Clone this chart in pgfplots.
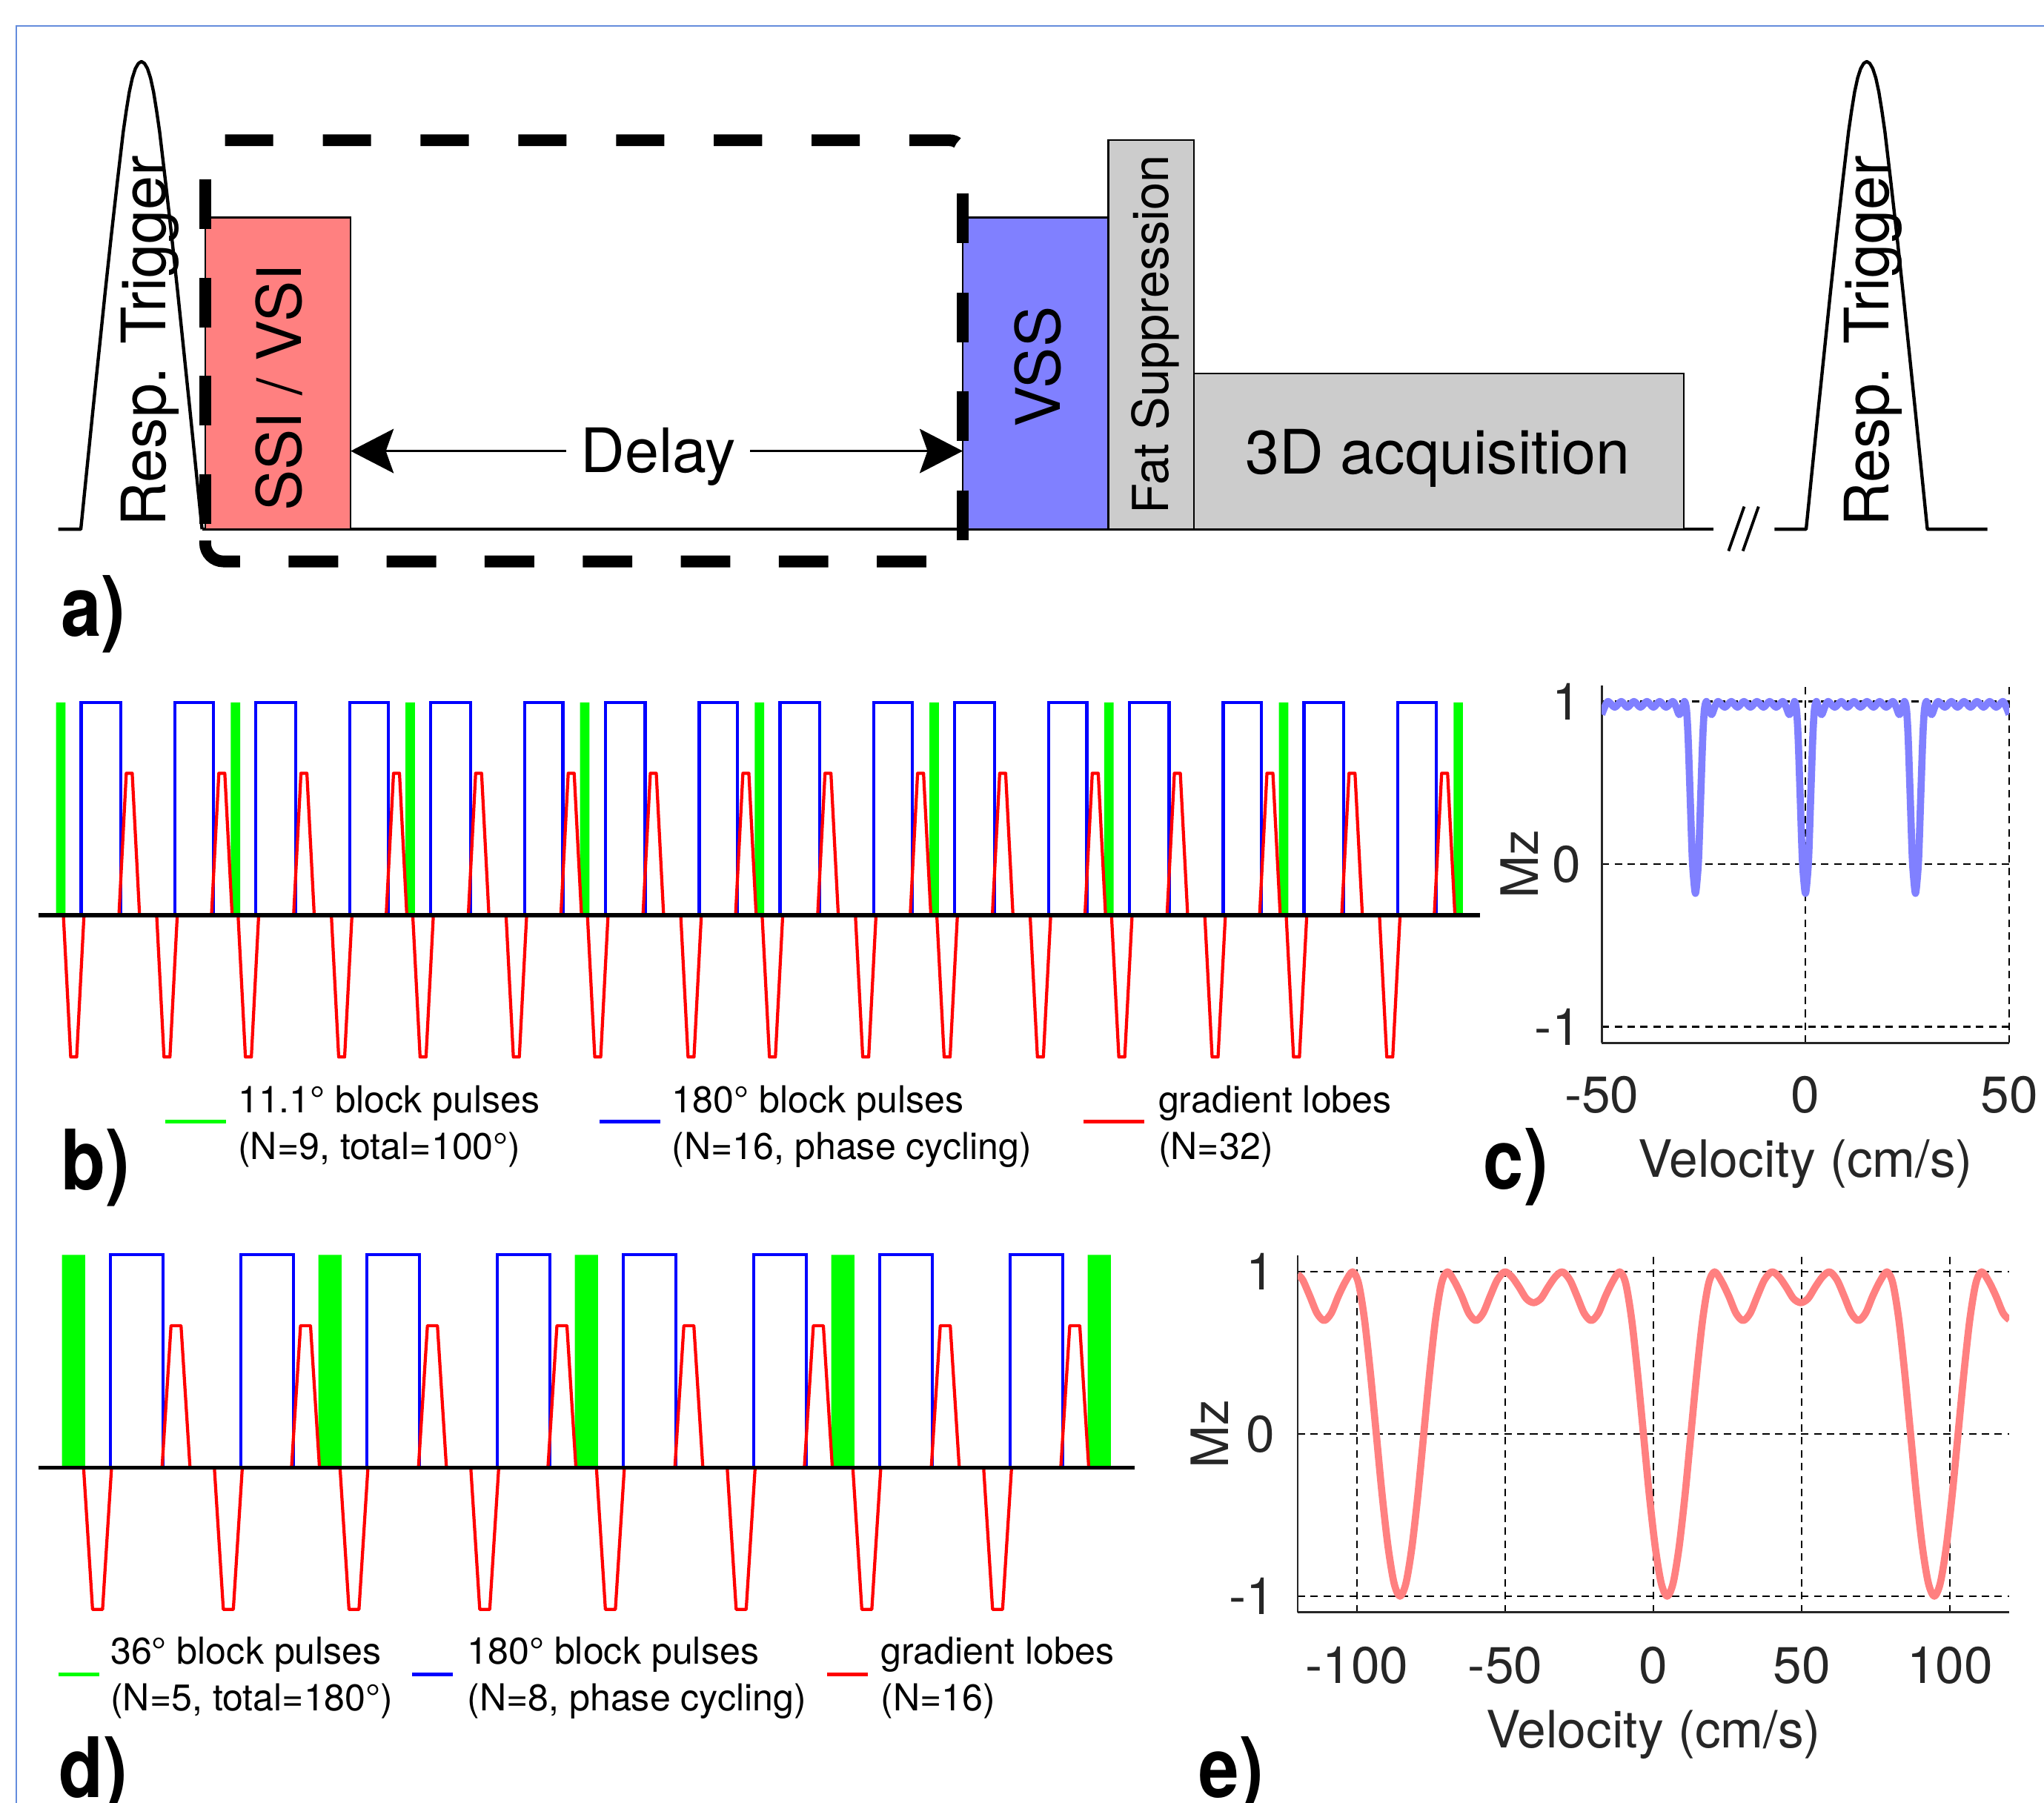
\documentclass[border=0pt]{standalone}
\usepackage{fontspec}
\setmainfont{TeX Gyre Heros}
\usepackage{pgfplots}
\pgfplotsset{compat=1.18}
\usetikzlibrary{arrows.meta}
\definecolor{ssi}{RGB}{255,128,128}
\definecolor{vss}{RGB}{128,128,255}
\definecolor{fatg}{RGB}{204,204,204}
\definecolor{pgreen}{RGB}{0,255,0}
\definecolor{pblue}{RGB}{0,0,255}
\definecolor{pred}{RGB}{255,0,0}
\definecolor{axgray}{RGB}{38,38,38}
\definecolor{bord}{RGB}{100,140,220}
\newcommand{\fA}{\fontsize{47}{56}\selectfont}
\newcommand{\fL}{\fontsize{28.5}{36}\selectfont}
\newcommand{\fT}{\fontsize{39.5}{44}\selectfont}
\newcommand{\fLab}{\bfseries\fontsize{64}{70}\selectfont}
\begin{document}
\begin{tikzpicture}
\path[use as bounding box] (0pt,0pt) rectangle (1568pt,-1383pt);

% ---------------- panel a (canvas in display px, y downward) ----------------
\begin{axis}[at={(0pt,0pt)}, anchor=north west, scale only axis,
  width=1568pt, height=1383pt, xmin=0, xmax=1568, ymin=0, ymax=1383,
  y dir=reverse, hide axis, clip=false]
\addplot[bord, line width=1.2pt] coordinates {(12.7,1400)(12.7,19.8)(1580,19.8)};
\addplot[black, line width=2.5pt, line join=round] coordinates {(44.7,406)(62,406)(66.65,360.1)(71.3,314.5)(75.95,269.7)(80.6,224.8)(85.25,181.75)(89.9,140.5)(94.55,101)(96.875,84.9)(99.2,70.5)(101.525,59.8)(103.85,52.6)(106.175,48.6)(108.5,47.2)(110.825,48.6)(113.15,52.6)(115.475,59.8)(117.8,70.5)(120.125,84.9)(122.45,101)(127.1,140.5)(131.75,181.75)(136.4,224.8)(141.05,269.7)(145.7,314.5)(150.35,360.1)(155,406)};
\addplot[black, line width=2.6pt] coordinates {(155,406)(1314.7,406)};
\addplot[black, line width=2.5pt, line join=round] coordinates {(1361.2,406)(1385.5,406)(1390.15,360.1)(1394.8,314.5)(1399.45,269.7)(1404.1,224.8)(1408.75,181.75)(1413.4,140.5)(1418.05,101)(1420.375,84.9)(1422.7,70.5)(1425.025,59.8)(1427.35,52.6)(1429.675,48.6)(1432,47.2)(1434.325,48.6)(1436.65,52.6)(1438.975,59.8)(1441.3,70.5)(1443.625,84.9)(1445.95,101)(1450.6,140.5)(1455.25,181.75)(1459.9,224.8)(1464.55,269.7)(1469.2,314.5)(1473.85,360.1)(1478.5,406)(1524.6,406)};
\addplot[black, line width=2.2pt] coordinates {(1326,422.7)(1338,388.6)};
\addplot[black, line width=2.2pt] coordinates {(1337,422.7)(1349,388.6)};
\addplot[draw=black, line width=1.3pt, fill=ssi] coordinates {(157.4,406)(157.4,166.9)(269,166.9)(269,406)(157.4,406)};
\addplot[draw=black, line width=1.3pt, fill=vss] coordinates {(738.5,406)(738.5,166.9)(850.2,166.9)(850.2,406)(738.5,406)};
\addplot[draw=black, line width=1.3pt, fill=fatg] coordinates {(850.2,406)(850.2,107.5)(916,107.5)(916,406)(850.2,406)};
\addplot[draw=black, line width=1.3pt, fill=fatg] coordinates {(916,406)(916,286.5)(1291.8,286.5)(1291.8,406)(916,406)};
% dashed rounded frame, edge by edge
\addplot[black, line width=9pt, dash pattern=on 37pt off 38pt, rounded corners=10pt] coordinates {(172.6,107.6)(738.5,107.6)(738.5,122)};
\addplot[black, line width=9pt, dash pattern=on 38.3pt off 37.6pt] coordinates {(738.5,148.4)(738.5,414.7)};
\addplot[black, line width=9pt, dash pattern=on 38pt off 37.2pt, rounded corners=14pt] coordinates {(710.6,430.7)(157.4,430.7)(157.4,414.7)};
\addplot[black, line width=9pt, dash pattern=on 38pt off 37.5pt] coordinates {(157.4,402)(157.4,137)};
\addplot[black, line width=1.5pt, arrows={Stealth[length=33pt,width=34pt,inset=6pt]-Stealth[length=33pt,width=34pt,inset=6pt]}] coordinates {(269,346)(738.5,346)};
\node[anchor=base, fill=white, inner xsep=11pt, inner ysep=3pt, font=\fA] at (505,362.7) {Delay};
\node[rotate=90, anchor=base, inner sep=0pt, font=\fA] at (126.9,261.6) {Resp. Trigger};
\node[rotate=90, anchor=base, inner sep=0pt, font=\fA] at (1449,261.6) {Resp. Trigger};
\node[rotate=90, anchor=base, inner sep=0pt, font=\fA] at (230.9,297.4) {SSI / VSI};
\node[rotate=90, anchor=base, inner sep=0pt, font=\fA] at (813.4,281.5) {VSS};
\node[rotate=90, anchor=base, inner sep=0pt, font=\fontsize{38}{44}\selectfont] at (896.2,256.5) {Fat Suppression};
\node[anchor=base, inner sep=0pt, font=\fA] at (1103,363.7) {3D acquisition};
\node[anchor=base west, inner sep=0pt, font=\fLab, xscale=0.87] at (46.7,488) {a)};
\node[anchor=base west, inner sep=0pt, font=\fLab, xscale=0.87] at (46.8,912.7) {b)};
\node[anchor=base west, inner sep=0pt, font=\fLab, xscale=0.87] at (1138,912) {c)};
\node[anchor=base west, inner sep=0pt, font=\fLab, xscale=0.87] at (45.3,1379) {d)};
\node[anchor=base west, inner sep=0pt, font=\fLab, xscale=0.87] at (919.5,1379) {e)};
\end{axis}

% ---------------- panel b ----------------
\begin{axis}[at={(29.33pt,-816.3pt)}, anchor=south west, scale only axis,
  width=1105.8pt, height=285.6pt, xmin=-10.2, xmax=815, ymin=-0.7, ymax=1.05,
  hide axis, clip=false, legend columns=3,
  legend style={at={(0.08706,-0.04237)}, anchor=north west, draw=none, fill=none,
    inner sep=0pt, outer sep=0pt, font=\fL, nodes={inner sep=0pt, text depth={}},
    /tikz/column 1/.style={column sep=7.8pt}, /tikz/column 2/.style={column sep=44.1pt},
    /tikz/column 3/.style={column sep=7.8pt}, /tikz/column 4/.style={column sep=38.7pt},
    /tikz/column 5/.style={column sep=9.5pt}},
  legend image code/.code={\draw[#1, line width=2.6pt] (0pt,3.9pt) -- (46.6pt,3.9pt);}]
\addplot[ybar, bar width=5.4, bar shift=0pt, fill=pgreen, draw=none,
  legend image code/.code={\draw[pgreen, line width=2.6pt] (0pt,3.9pt) -- (46.6pt,3.9pt);}]
  coordinates {(2.7,1)(102.7,1)(202.7,1)(302.7,1)(402.7,1)(502.7,1)(602.7,1)(702.7,1)(802.7,1)};
\addlegendentry{\begin{tabular}{@{}l@{}}11.1° block pulses\\(N=9, total=100°)\end{tabular}}
\addplot[pblue, line width=2.4pt] coordinates {
(14.4,0)(14.4,1)(37.2,1)(37.2,0)(68.2,0)(68.2,1)(90.1,1)(90.1,0)
(114.4,0)(114.4,1)(137.2,1)(137.2,0)(168.2,0)(168.2,1)(190.1,1)(190.1,0)
(214.4,0)(214.4,1)(237.2,1)(237.2,0)(268.2,0)(268.2,1)(290.1,1)(290.1,0)
(314.4,0)(314.4,1)(337.2,1)(337.2,0)(368.2,0)(368.2,1)(390.1,1)(390.1,0)
(414.4,0)(414.4,1)(437.2,1)(437.2,0)(468.2,0)(468.2,1)(490.1,1)(490.1,0)
(514.4,0)(514.4,1)(537.2,1)(537.2,0)(568.2,0)(568.2,1)(590.1,1)(590.1,0)
(614.4,0)(614.4,1)(637.2,1)(637.2,0)(668.2,0)(668.2,1)(690.1,1)(690.1,0)
(714.4,0)(714.4,1)(737.2,1)(737.2,0)(768.2,0)(768.2,1)(790.1,1)(790.1,0)};
\addlegendentry{\begin{tabular}{@{}l@{}}180° block pulses\\(N=16, phase cycling)\end{tabular}}
\addplot[pred, line width=2.4pt, line join=round] coordinates {
(4.2,0)(8.4,-0.667)(11.8,-0.667)(16,0)(36,0)(40.2,0.667)(43.6,0.667)(47.8,0)(57.6,0)(61.8,-0.667)(65.2,-0.667)(69.4,0)(89,0)(93.2,0.667)(96.6,0.667)(100.8,0)
(104.2,0)(108.4,-0.667)(111.8,-0.667)(116,0)(136,0)(140.2,0.667)(143.6,0.667)(147.8,0)(157.6,0)(161.8,-0.667)(165.2,-0.667)(169.4,0)(189,0)(193.2,0.667)(196.6,0.667)(200.8,0)
(204.2,0)(208.4,-0.667)(211.8,-0.667)(216,0)(236,0)(240.2,0.667)(243.6,0.667)(247.8,0)(257.6,0)(261.8,-0.667)(265.2,-0.667)(269.4,0)(289,0)(293.2,0.667)(296.6,0.667)(300.8,0)
(304.2,0)(308.4,-0.667)(311.8,-0.667)(316,0)(336,0)(340.2,0.667)(343.6,0.667)(347.8,0)(357.6,0)(361.8,-0.667)(365.2,-0.667)(369.4,0)(389,0)(393.2,0.667)(396.6,0.667)(400.8,0)
(404.2,0)(408.4,-0.667)(411.8,-0.667)(416,0)(436,0)(440.2,0.667)(443.6,0.667)(447.8,0)(457.6,0)(461.8,-0.667)(465.2,-0.667)(469.4,0)(489,0)(493.2,0.667)(496.6,0.667)(500.8,0)
(504.2,0)(508.4,-0.667)(511.8,-0.667)(516,0)(536,0)(540.2,0.667)(543.6,0.667)(547.8,0)(557.6,0)(561.8,-0.667)(565.2,-0.667)(569.4,0)(589,0)(593.2,0.667)(596.6,0.667)(600.8,0)
(604.2,0)(608.4,-0.667)(611.8,-0.667)(616,0)(636,0)(640.2,0.667)(643.6,0.667)(647.8,0)(657.6,0)(661.8,-0.667)(665.2,-0.667)(669.4,0)(689,0)(693.2,0.667)(696.6,0.667)(700.8,0)
(704.2,0)(708.4,-0.667)(711.8,-0.667)(716,0)(736,0)(740.2,0.667)(743.6,0.667)(747.8,0)(757.6,0)(761.8,-0.667)(765.2,-0.667)(769.4,0)(789,0)(793.2,0.667)(796.6,0.667)(800.8,0)};
\addlegendentry{\begin{tabular}{@{}l@{}}gradient lobes\\(N=32)\end{tabular}}
\addplot[black, line width=3pt, forget plot] coordinates {(-10.2,0)(815,0)};
\end{axis}

% ---------------- panel d ----------------
\begin{axis}[at={(29.4pt,-1240.1pt)}, anchor=south west, scale only axis,
  width=841.2pt, height=285.6pt, xmin=-9.25, xmax=418.4, ymin=-0.7, ymax=1.05,
  hide axis, clip=false, legend columns=3,
  legend style={at={(0.01676,-0.03957)}, anchor=north west, draw=none, fill=none,
    inner sep=0pt, outer sep=0pt, font=\fL, nodes={inner sep=0pt, text depth={}},
    /tikz/column 1/.style={column sep=7.5pt}, /tikz/column 2/.style={column sep=13.5pt},
    /tikz/column 3/.style={column sep=9.6pt}, /tikz/column 4/.style={column sep=14.9pt},
    /tikz/column 5/.style={column sep=8.6pt}},
  legend image code/.code={\draw[#1, line width=2.6pt] (0pt,2.9pt) -- (31.2pt,2.9pt);}]
\addplot[ybar, bar width=9, bar shift=0pt, fill=pgreen, draw=none,
  legend image code/.code={\draw[pgreen, line width=2.6pt] (0pt,2.9pt) -- (31.2pt,2.9pt);}]
  coordinates {(4.5,1)(104.5,1)(204.5,1)(304.5,1)(404.5,1)};
\addlegendentry{\begin{tabular}{@{}l@{}}36° block pulses\\(N=5, total=180°)\end{tabular}}
\addplot[pblue, line width=2.4pt] coordinates {
(18.8,0)(18.8,1)(39.5,1)(39.5,0)(69.8,0)(69.8,1)(90.3,1)(90.3,0)
(118.8,0)(118.8,1)(139.5,1)(139.5,0)(169.8,0)(169.8,1)(190.3,1)(190.3,0)
(218.8,0)(218.8,1)(239.5,1)(239.5,0)(269.8,0)(269.8,1)(290.3,1)(290.3,0)
(318.8,0)(318.8,1)(339.5,1)(339.5,0)(369.8,0)(369.8,1)(390.3,1)(390.3,0)};
\addlegendentry{\begin{tabular}{@{}l@{}}180° block pulses\\(N=8, phase cycling)\end{tabular}}
\addplot[pred, line width=2.4pt, line join=round] coordinates {
(8.4,0)(11.9,-0.667)(15.8,-0.667)(19.3,0)(39,0)(42.5,0.667)(46.4,0.667)(49.9,0)(59.4,0)(62.9,-0.667)(66.8,-0.667)(70.3,0)(89.5,0)(93,0.667)(96.9,0.667)(100.4,0)
(108.4,0)(111.9,-0.667)(115.8,-0.667)(119.3,0)(139,0)(142.5,0.667)(146.4,0.667)(149.9,0)(159.4,0)(162.9,-0.667)(166.8,-0.667)(170.3,0)(189.5,0)(193,0.667)(196.9,0.667)(200.4,0)
(208.4,0)(211.9,-0.667)(215.8,-0.667)(219.3,0)(239,0)(242.5,0.667)(246.4,0.667)(249.9,0)(259.4,0)(262.9,-0.667)(266.8,-0.667)(270.3,0)(289.5,0)(293,0.667)(296.9,0.667)(300.4,0)
(308.4,0)(311.9,-0.667)(315.8,-0.667)(319.3,0)(339,0)(342.5,0.667)(346.4,0.667)(349.9,0)(359.4,0)(362.9,-0.667)(366.8,-0.667)(370.3,0)(389.5,0)(393,0.667)(396.9,0.667)(400.4,0)};
\addlegendentry{\begin{tabular}{@{}l@{}}gradient lobes\\(N=16)\end{tabular}}
\addplot[black, line width=3pt, forget plot] coordinates {(-9.25,0)(418.4,0)};
\end{axis}

% ---------------- panel c ----------------
\begin{axis}[at={(1228.7pt,-800.1pt)}, anchor=south west, scale only axis,
  width=312.6pt, height=274.4pt, xmin=-50, xmax=50, ymin=-1.1, ymax=1.1,
  axis x line*=bottom, axis y line*=left,
  axis line style={-, line width=1.6pt, color=axgray},
  xtick={-50,0,50}, ytick={-1,0,1}, xticklabels={-50,0,50}, yticklabels={-1,0,1},
  major tick length=0pt, grid=major,
  major grid style={black, line width=1.3pt, dash pattern=on 5.7pt off 4.2pt},
  tick label style={font=\fT, text=axgray, inner sep=0pt},
  xticklabel style={anchor=north, yshift=-25.5pt},
  yticklabel style={anchor=east, xshift=-16pt},
  xlabel={Velocity (cm/s)}, ylabel={Mz},
  label style={font=\fT, text=axgray, inner sep=0pt},
  xlabel style={at={(axis description cs:0.5,-0.3757)}, anchor=base},
  ylabel style={at={(axis description cs:-0.2015,0.5)}, anchor=center}]
\addplot[color=vss, line width=5.5pt, smooth, tension=0.5, line join=round] coordinates {
(-50,0.92)(-49.2,0.97)(-48.4,1.0)(-46.8,0.965)(-45.2,1.0)(-43.7,0.965)(-42.1,1.0)(-40.5,0.965)(-38.9,1.0)(-37.3,0.965)(-35.8,1.0)(-34.2,0.965)(-32.6,1.0)(-31.8,0.97)(-31.0,0.92)(-30.3,0.95)(-29.7,1.0)(-29.2,0.95)(-28.8,0.78)(-28.3,0.42)(-27.8,0.05)(-27.4,-0.1)(-27,-0.18)
(-26.6,-0.1)(-26.2,0.05)(-25.7,0.42)(-25.2,0.78)(-24.8,0.95)(-24.3,1.0)(-23.7,0.95)(-23.0,0.92)(-22.2,0.97)(-21.4,1.0)(-19.8,0.965)(-18.2,1.0)(-16.7,0.965)(-15.1,1.0)(-13.5,0.965)(-11.9,1.0)(-10.3,0.965)(-8.8,1.0)(-7.2,0.965)(-5.6,1.0)(-4.8,0.97)(-4.0,0.92)(-3.3,0.95)(-2.7,1.0)(-2.2,0.95)(-1.8,0.78)(-1.3,0.42)(-0.8,0.05)(-0.4,-0.1)(0,-0.18)
(0.4,-0.1)(0.8,0.05)(1.3,0.42)(1.8,0.78)(2.2,0.95)(2.7,1.0)(3.3,0.95)(4.0,0.92)(4.8,0.97)(5.6,1.0)(7.2,0.965)(8.8,1.0)(10.3,0.965)(11.9,1.0)(13.5,0.965)(15.1,1.0)(16.7,0.965)(18.2,1.0)(19.8,0.965)(21.4,1.0)(22.2,0.97)(23.0,0.92)(23.7,0.95)(24.3,1.0)(24.8,0.95)(25.2,0.78)(25.7,0.42)(26.2,0.05)(26.6,-0.1)(27,-0.18)
(27.4,-0.1)(27.8,0.05)(28.3,0.42)(28.8,0.78)(29.2,0.95)(29.7,1.0)(30.3,0.95)(31.0,0.92)(31.8,0.97)(32.6,1.0)(34.2,0.965)(35.8,1.0)(37.3,0.965)(38.9,1.0)(40.5,0.965)(42.1,1.0)(43.7,0.965)(45.2,1.0)(46.8,0.965)(48.4,1.0)(49.2,0.97)(50,0.92)};
\end{axis}

% ---------------- panel e ----------------
\begin{axis}[at={(995.5pt,-1237pt)}, anchor=south west, scale only axis,
  width=545.9pt, height=273.7pt, xmin=-120, xmax=120, ymin=-1.1, ymax=1.1,
  axis x line*=bottom, axis y line*=left,
  axis line style={-, line width=1.6pt, color=axgray},
  xtick={-100,-50,0,50,100}, ytick={-1,0,1},
  xticklabels={-100,-50,0,50,100}, yticklabels={-1,0,1},
  major tick length=0pt, grid=major,
  major grid style={black, line width=1.3pt, dash pattern=on 5.7pt off 4.2pt},
  tick label style={font=\fT, text=axgray, inner sep=0pt},
  xticklabel style={anchor=north, yshift=-26pt},
  yticklabel style={anchor=east, xshift=-17.5pt},
  xlabel={Velocity (cm/s)}, ylabel={Mz},
  label style={font=\fT, text=axgray, inner sep=0pt},
  xlabel style={at={(axis description cs:0.5,-0.3803)}, anchor=base},
  ylabel style={at={(axis description cs:-0.1233,0.5)}, anchor=center}]
\addplot[color=ssi, line width=5.5pt, smooth, line join=round] coordinates {
(-120,0.985)(-118.3,0.95)(-115.9,0.85)(-113.5,0.745)(-111.1,0.70)(-108.7,0.745)(-106.3,0.85)(-103.9,0.94)(-101.5,1.0)(-99.5,0.93)(-97.5,0.71)(-95.5,0.38)(-93.5,0.0)(-91.5,-0.38)(-89.5,-0.70)(-87.5,-0.92)(-85.5,-1.0)
(-83.5,-0.92)(-81.5,-0.70)(-79.5,-0.38)(-77.5,0.0)(-75.5,0.38)(-73.5,0.71)(-71.5,0.93)(-69.5,1.0)(-67.1,0.94)(-64.7,0.85)(-62.3,0.745)(-59.9,0.70)(-57.5,0.745)(-55.1,0.85)(-52.7,0.95)(-50.2,1.0)(-47.8,0.97)(-45.3,0.905)(-42.9,0.835)(-40.45,0.81)(-38.0,0.835)(-35.6,0.905)(-33.1,0.97)(-30.7,1.0)(-28.2,0.95)(-25.8,0.85)(-23.4,0.745)(-21.0,0.70)(-18.6,0.745)(-16.2,0.85)(-13.8,0.94)(-11.4,1.0)(-9.4,0.93)(-7.4,0.71)(-5.4,0.38)(-3.4,0.0)(-1.4,-0.38)(0.6,-0.70)(2.6,-0.92)(4.6,-1.0)
(6.6,-0.92)(8.6,-0.70)(10.6,-0.38)(12.6,0.0)(14.6,0.38)(16.6,0.71)(18.6,0.93)(20.6,1.0)(23.0,0.94)(25.4,0.85)(27.8,0.745)(30.2,0.70)(32.6,0.745)(35.0,0.85)(37.4,0.95)(39.9,1.0)(42.3,0.97)(44.8,0.905)(47.2,0.835)(49.65,0.81)(52.1,0.835)(54.5,0.905)(57.0,0.97)(59.4,1.0)(61.9,0.95)(64.3,0.85)(66.7,0.745)(69.1,0.70)(71.5,0.745)(73.9,0.85)(76.3,0.94)(78.7,1.0)(80.7,0.93)(82.7,0.71)(84.7,0.38)(86.7,0.0)(88.7,-0.38)(90.7,-0.70)(92.7,-0.92)(94.7,-1.0)
(96.7,-0.92)(98.7,-0.70)(100.7,-0.38)(102.7,0.0)(104.7,0.38)(106.7,0.71)(108.7,0.93)(110.7,1.0)(113.1,0.94)(115.5,0.85)(117.9,0.745)(120,0.705)};
\end{axis}
\end{tikzpicture}
\end{document}
